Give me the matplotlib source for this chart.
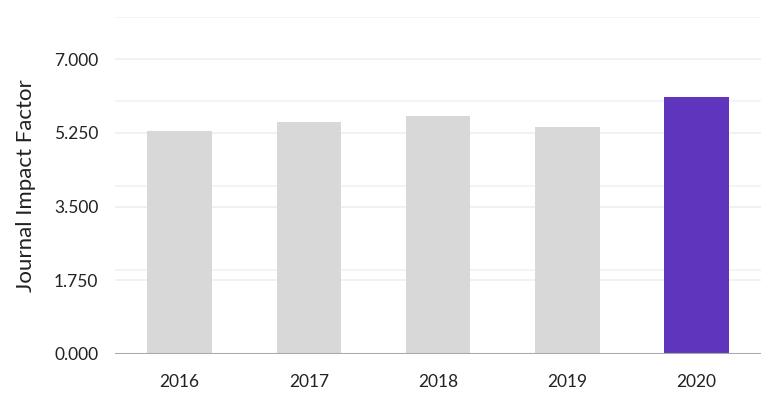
import matplotlib
matplotlib.use("Agg")
import matplotlib.pyplot as plt

years = ["2016", "2017", "2018", "2019", "2020"]
impact = [5.30, 5.50, 5.65, 5.39, 6.11]
bar_colors = ["#d8d8d8", "#d8d8d8", "#d8d8d8", "#d8d8d8", "#5f35be"]
yticks = [0.0, 1.75, 3.5, 5.25, 7.0]
ytick_labels = ["0.000", "1.750", "3.500", "5.250", "7.000"]
secondary_grid = [2.0, 4.0, 6.0, 8.0]

plt.rcParams['font.family'] = ['Lato', 'DejaVu Sans']

fig = plt.figure(figsize=(7.71, 4.0), dpi=100)
ax = fig.add_axes([115/771, 46/400, 646/771, 337/400])

x = list(range(len(years)))
ax.bar(x, impact, width=0.5, color=bar_colors, zorder=3)

ax.set_xlim(-0.5, 4.5)
ax.set_ylim(0, 8.0)

for g in secondary_grid:
    ax.axhline(g, color="#f2f2f2", lw=1.2, zorder=1)
for g in yticks[1:]:
    ax.axhline(g, color="#efefef", lw=1.2, zorder=1)
ax.axhline(0, color="#aaaaaa", lw=1.5, zorder=4)

ax.set_yticks(yticks)
ax.set_yticklabels(ytick_labels)
ax.set_xticks(x)
ax.set_xticklabels(years)

for s in ax.spines.values():
    s.set_visible(False)
ax.tick_params(axis='both', length=0, labelsize=12.5, colors="#222222")
ax.tick_params(axis='y', pad=12)
ax.tick_params(axis='x', pad=14.5)

ax.set_ylabel("Journal Impact Factor", fontsize=16, color="#222222", labelpad=13)

fig.savefig("out.png", dpi=100)
